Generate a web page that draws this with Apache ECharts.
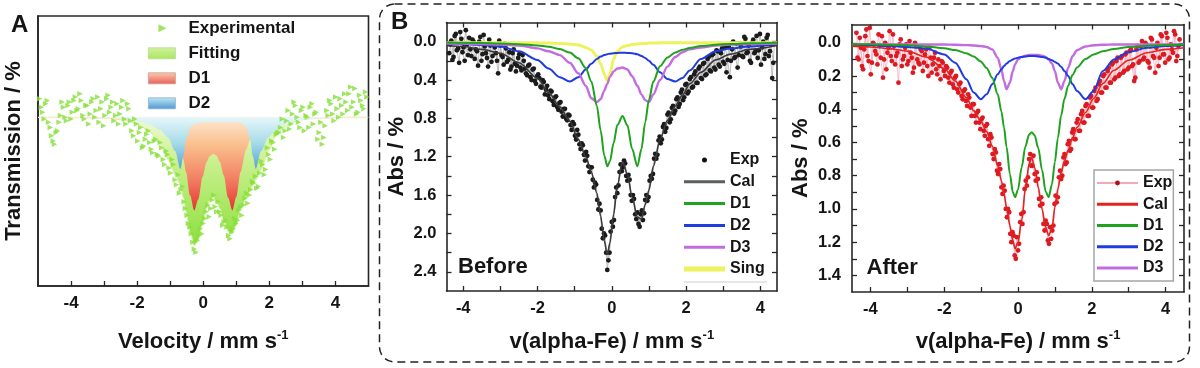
<!DOCTYPE html>
<html><head><meta charset="utf-8">
<script src="https://cdn.jsdelivr.net/npm/echarts@6/dist/echarts.min.js"></script>
<style>html,body{margin:0;padding:0;background:#fff}#c{width:1200px;height:368px}</style>
</head><body><div id="c"></div>
<script>
// ================= Panel A (Transmission) =================
const vA = [-5,-4,-3,-2.5,-2,-1.6,-1.3,-1.07,-0.85,-0.69,-0.6,-0.52,-0.4,-0.27,-0.15,-0.02,0.1,0.2,0.3,0.4,0.5,0.62,0.75,0.88,1.0,1.13,1.3,1.42,1.5,1.59,1.75,1.97,2.2,2.5,2.9,3.5,4.2,5];
const fitA = [100.0,100.0,99.98,99.93,99.82,99.55,99.2,98.75,98.3,98.0,97.6,97.2,96.6,96.2,96.35,96.85,97.3,97.55,97.62,97.5,97.3,96.95,96.62,96.55,96.8,97.25,97.6,97.85,98.0,98.15,98.45,99.0,99.45,99.75,99.92,99.98,100.0,100.0];
const d1A = [99.98,99.97,99.955,99.94,99.90,99.84,99.76,99.63,99.39,99.05,98.75,98.38,97.69,97.24,97.57,98.24,98.67,98.85,98.92,98.87,98.69,98.28,97.62,97.24,97.64,98.38,99.05,99.33,99.45,99.55,99.68,99.78,99.84,99.89,99.92,99.95,99.97,99.98];
const d2A = [100,100,99.99,99.97,99.9,99.78,99.62,99.4,99.0,98.47,98.85,99.35,99.7,99.8,99.84,99.85,99.86,99.86,99.86,99.86,99.86,99.86,99.86,99.86,99.85,99.84,99.72,99.35,98.85,98.47,99.0,99.4,99.62,99.8,99.92,99.97,100,100];
const expVA = [-4.95,-4.86,-4.77,-4.68,-4.59,-4.5,-4.41,-4.32,-4.23,-4.14,-4.05,-3.96,-3.87,-3.78,-3.69,-3.6,-3.51,-3.42,-3.33,-3.24,-3.15,-3.06,-2.97,-2.88,-2.79,-2.7,-2.61,-2.52,-2.43,-2.34,-2.25,-2.16,-2.07,-1.98,-1.89,-1.8,-1.71,-1.62,-1.53,-1.44,-1.35,-1.26,-1.17,-1.08,-0.99,-0.9,-0.81,-0.72,-0.63,-0.54,-0.45,-0.36,-0.27,-0.18,-0.09,0,0.09,0.18,0.27,0.36,0.45,0.54,0.63,0.72,0.81,0.9,0.99,1.08,1.17,1.26,1.35,1.44,1.53,1.62,1.71,1.8,1.89,1.98,2.07,2.16,2.25,2.34,2.43,2.52,2.61,2.7,2.79,2.88,2.97,3.06,3.15,3.24,3.33,3.42,3.51,3.6,3.69,3.78,3.87,3.96,4.05,4.14,4.23,4.32,4.41,4.5,4.59,4.68,4.77,4.86,4.95];
const expTA = [100.55,100.15,100.4,99.85,99.45,99.2,99.6,100.05,100.3,99.9,
100.45,100.15,100.6,100.25,100.5,99.95,100.35,100.1,100.55,100.2,
99.85,100.45,100.05,100.65,100.3,99.9,100.4,100.1,100.5,99.8,
100.25,99.6,99.95,99.3,99.7,99.15,99.5,99.25,98.95,99.35,
98.85,99.1,98.6,98.9,98.35,98.6,98.0,97.75,97.95,97.3,
96.85,96.55,96.1,96.35,96.7,96.85,97.2,97.05,97.55,97.35,
97.5,97.1,96.9,96.75,96.4,96.7,96.85,97.25,97.1,97.6,
97.45,97.85,98.05,97.9,98.35,98.6,98.45,98.9,99.3,99.05,
99.55,99.7,99.4,99.9,99.65,100.1,100.35,99.85,100.2,99.6,
100.0,100.3,99.8,100.15,99.55,99.2,99.75,100.05,100.4,99.9,
100.25,100.55,100.1,100.45,100.7,100.3,100.85,100.15,100.5,100.25,100.6];
const expVA2 = [-4.9,-4.81,-4.72,-4.63,-4.54,-4.45,-4.36,-4.27,-4.18,-4.09,-4.0,-3.91,-3.82,-3.73,-3.64,-3.55,-3.46,-3.37,-3.28,-3.19,-3.1,-3.01,-2.92,-2.83,-2.74,-2.65,-2.56,-2.47,-2.38,-2.29,-2.2,-2.11,-2.02,-1.93,-1.84,-1.75,-1.66,-1.57,-1.48,-1.39,-1.3,-1.21,-1.12,-1.03,-0.94,-0.85,-0.76,-0.67,-0.58,-0.49,-0.4,-0.31,-0.22,-0.13,-0.04,0.05,0.14,0.23,0.32,0.41,0.5,0.59,0.68,0.77,0.86,0.95,1.04,1.13,1.22,1.31,1.4,1.49,1.58,1.67,1.76,1.85,1.94,2.03,2.12,2.21,2.3,2.39,2.48,2.57,2.66,2.75,2.84,2.93,3.02,3.11,3.2,3.29,3.38,3.47,3.56,3.65,3.74,3.83,3.92,4.01,4.1,4.19,4.28,4.37,4.46,4.55,4.64,4.73,4.82,4.91];
const expTA2 = [100.3,99.95,100.5,99.7,99.3,99.55,99.85,100.45,100.0,100.35,
99.95,100.5,100.2,100.7,100.05,100.35,99.8,100.45,100.0,100.6,
100.25,99.75,100.55,100.15,100.45,100.05,99.8,100.3,99.95,100.4,
99.9,99.45,99.8,99.55,99.1,99.35,99.6,99.05,99.3,98.9,
99.25,98.75,99.0,98.5,98.75,98.15,98.3,97.85,97.5,97.1,
96.75,96.3,96.0,96.5,96.55,97.0,97.4,97.3,97.7,97.2,
97.2,96.8,96.95,96.5,96.6,97.0,96.95,97.35,97.4,97.75,
97.7,98.1,98.25,97.95,98.7,98.3,99.1,98.75,99.25,99.5,
99.55,99.95,99.6,100.2,99.8,100.45,100.0,99.7,100.3,100.05,
99.7,100.4,100.1,99.35,99.85,99.4,100.2,100.5,100.1,100.6,
100.0,100.35,100.7,100.2,100.9,100.45,100.1,100.65,100.35,100.75];

// ================= Panel B (Before) =================
const vB = [-4.45,-4,-3.5,-3,-2.5,-2,-1.7,-1.4,-1.13,-0.9,-0.7,-0.55,-0.4,-0.3,-0.2,-0.12,-0.05,0.05,0.15,0.29,0.42,0.55,0.69,0.8,0.9,1.0,1.12,1.3,1.5,1.71,1.9,2.1,2.4,2.8,3.2,3.7,4.45];
const calB = [0.04,0.05,0.08,0.12,0.22,0.38,0.53,0.68,0.83,1.02,1.2,1.36,1.58,1.82,2.08,2.22,2.1,1.8,1.5,1.25,1.38,1.62,1.83,1.85,1.7,1.55,1.3,1.02,0.82,0.67,0.56,0.44,0.32,0.19,0.13,0.08,0.04];
const d1B = [0.009,0.011,0.014,0.018,0.026,0.039,0.053,0.077,0.114,0.174,0.275,0.416,0.67,0.926,1.19,1.30,1.25,1.06,0.87,0.775,0.87,1.12,1.30,1.12,0.843,0.607,0.416,0.255,0.164,0.113,0.084,0.065,0.046,0.032,0.024,0.017,0.011];
const d2B = [0.02,0.025,0.035,0.05,0.10,0.19,0.28,0.37,0.415,0.37,0.29,0.23,0.18,0.155,0.14,0.13,0.125,0.12,0.117,0.115,0.117,0.12,0.13,0.15,0.17,0.20,0.24,0.32,0.39,0.415,0.38,0.30,0.18,0.10,0.07,0.05,0.025];
const d3B = [0.02,0.02,0.025,0.03,0.04,0.07,0.10,0.14,0.22,0.33,0.46,0.59,0.63,0.60,0.51,0.44,0.37,0.31,0.28,0.27,0.29,0.36,0.46,0.55,0.61,0.63,0.55,0.40,0.26,0.16,0.11,0.08,0.06,0.04,0.03,0.025,0.02];
const singB = [0.01,0.01,0.01,0.01,0.01,0.012,0.015,0.02,0.025,0.035,0.06,0.09,0.15,0.23,0.34,0.41,0.34,0.18,0.10,0.055,0.04,0.03,0.025,0.02,0.02,0.015,0.015,0.012,0.01,0.01,0.01,0.01,0.01,0.01,0.01,0.01,0.01];

// velocity channels of the measured spectra (shared by B and C), two interleaved sweeps
const expV = [-4.38,-4.32,-4.26,-4.2,-4.14,-4.08,-4.02,-3.96,-3.9,-3.84,-3.78,-3.72,-3.66,-3.6,-3.54,-3.48,-3.42,-3.36,-3.3,-3.24,-3.18,-3.12,-3.06,-3,-2.94,-2.88,-2.82,-2.76,-2.7,-2.64,-2.58,-2.52,-2.46,-2.4,-2.34,-2.28,-2.22,-2.16,-2.1,-2.04,-1.98,-1.92,-1.86,-1.8,-1.74,-1.68,-1.62,-1.56,-1.5,-1.44,-1.38,-1.32,-1.26,-1.2,-1.14,-1.08,-1.02,-0.96,-0.9,-0.84,-0.78,-0.72,-0.66,-0.6,-0.54,-0.48,-0.42,-0.36,-0.3,-0.24,-0.18,-0.12,-0.06,0,0.06,0.12,0.18,0.24,0.3,0.36,0.42,0.48,0.54,0.6,0.66,0.72,0.78,0.84,0.9,0.96,1.02,1.08,1.14,1.2,1.26,1.32,1.38,1.44,1.5,1.56,1.62,1.68,1.74,1.8,1.86,1.92,1.98,2.04,2.1,2.16,2.22,2.28,2.34,2.4,2.46,2.52,2.58,2.64,2.7,2.76,2.82,2.88,2.94,3,3.06,3.12,3.18,3.24,3.3,3.36,3.42,3.48,3.54,3.6,3.66,3.72,3.78,3.84,3.9,3.96,4.02,4.08,4.14,4.2,4.26,4.32,4.38];
const expV2 = [-4.35,-4.29,-4.23,-4.17,-4.11,-4.05,-3.99,-3.93,-3.87,-3.81,-3.75,-3.69,-3.63,-3.57,-3.51,-3.45,-3.39,-3.33,-3.27,-3.21,-3.15,-3.09,-3.03,-2.97,-2.91,-2.85,-2.79,-2.73,-2.67,-2.61,-2.55,-2.49,-2.43,-2.37,-2.31,-2.25,-2.19,-2.13,-2.07,-2.01,-1.95,-1.89,-1.83,-1.77,-1.71,-1.65,-1.59,-1.53,-1.47,-1.41,-1.35,-1.29,-1.23,-1.17,-1.11,-1.05,-0.99,-0.93,-0.87,-0.81,-0.75,-0.69,-0.63,-0.57,-0.51,-0.45,-0.39,-0.33,-0.27,-0.21,-0.15,-0.09,-0.03,0.03,0.09,0.15,0.21,0.27,0.33,0.39,0.45,0.51,0.57,0.63,0.69,0.75,0.81,0.87,0.93,0.99,1.05,1.11,1.17,1.23,1.29,1.35,1.41,1.47,1.53,1.59,1.65,1.71,1.77,1.83,1.89,1.95,2.01,2.07,2.13,2.19,2.25,2.31,2.37,2.43,2.49,2.55,2.61,2.67,2.73,2.79,2.85,2.91,2.97,3.03,3.09,3.15,3.21,3.27,3.33,3.39,3.45,3.51,3.57,3.63,3.69,3.75,3.81,3.87,3.93,3.99,4.05,4.11,4.17,4.23,4.29,4.35];
const expB = [0.12,-0.01,0.16,-0.08,0.07,-0.1,0.11,0.2,0.03,-0.04,
0.15,0.0,0.08,0.25,-0.05,0.13,0.05,0.17,-0.02,0.21,
0.03,0.12,0.33,0.04,0.16,0.02,0.21,0.11,0.26,0.08,
0.31,0.17,0.27,0.14,0.28,0.35,0.24,0.4,0.28,0.44,
0.34,0.47,0.4,0.55,0.46,0.6,0.52,0.66,0.57,0.71,
0.63,0.78,0.7,0.82,0.77,0.92,0.86,1.02,0.97,1.12,
1.08,1.24,1.19,1.36,1.31,1.52,1.49,1.75,1.76,2.05,
2.02,2.38,2.2,1.88,1.86,1.52,1.5,1.28,1.31,1.27,
1.45,1.44,1.66,1.64,1.85,1.9,1.8,1.86,1.65,1.66,
1.45,1.43,1.22,1.22,1.03,1.06,0.89,0.94,0.76,0.84,
0.69,0.75,0.6,0.68,0.53,0.61,0.45,0.54,0.39,0.48,
0.34,0.43,0.28,0.38,0.23,0.35,0.18,0.3,0.14,0.27,
0.09,0.24,0.12,0.21,0.06,0.19,0.37,0.08,0.17,0.02,
0.14,0.05,0.16,-0.03,0.11,0.2,0.01,0.12,-0.06,0.09,
0.24,0.0,0.13,-0.07,0.1,0.38,0.02];
const expB2 = [0.03,0.19,-0.06,0.09,0.22,-0.03,0.06,-0.12,0.14,0.08,
-0.02,0.18,0.1,0.0,0.2,-0.07,0.12,0.26,0.04,0.15,
0.06,0.2,-0.01,0.14,0.24,0.07,0.19,0.29,0.12,0.23,
0.25,0.13,0.3,0.2,0.33,0.25,0.37,0.29,0.41,0.36,
0.38,0.48,0.42,0.5,0.56,0.51,0.62,0.58,0.68,0.64,
0.73,0.7,0.8,0.76,0.87,0.84,0.98,0.92,1.07,1.06,
1.18,1.15,1.3,1.31,1.44,1.47,1.65,1.69,1.95,2.0,
2.2,2.28,1.98,1.93,1.62,1.58,1.36,1.35,1.24,1.4,
1.39,1.6,1.6,1.8,1.78,1.93,1.76,1.79,1.6,1.62,
1.4,1.38,1.17,1.18,0.99,1.02,0.86,0.9,0.74,0.81,
0.67,0.72,0.58,0.65,0.5,0.58,0.44,0.52,0.37,0.47,
0.31,0.43,0.26,0.39,0.22,0.34,0.16,0.31,0.13,0.29,
0.1,0.26,0.07,0.23,0.32,0.05,0.2,0.0,0.16,0.27,
0.02,0.15,-0.05,0.12,0.04,0.22,-0.02,0.1,0.17,-0.08,
0.06,0.18,-0.04,0.15,0.03,0.22];

// ================= Panel C (After) =================
const vC = [-4.5,-4,-3.5,-3,-2.5,-2,-1.7,-1.4,-1.2,-1.01,-0.85,-0.7,-0.55,-0.45,-0.38,-0.31,-0.22,-0.14,-0.08,0.0,0.1,0.2,0.3,0.37,0.45,0.55,0.65,0.75,0.83,0.92,1.0,1.08,1.17,1.26,1.36,1.48,1.6,1.83,2.05,2.3,2.6,3.0,3.5,4.0,4.5];
const calC = [0.02,0.025,0.035,0.05,0.085,0.155,0.23,0.33,0.41,0.47,0.535,0.62,0.74,0.83,0.91,0.99,1.10,1.19,1.24,1.20,1.07,0.88,0.73,0.69,0.75,0.87,1.0,1.11,1.16,1.12,0.99,0.88,0.78,0.71,0.645,0.57,0.51,0.42,0.335,0.245,0.165,0.105,0.06,0.04,0.03];
const d1C = [0.007,0.009,0.012,0.015,0.022,0.033,0.044,0.063,0.083,0.112,0.152,0.211,0.31,0.413,0.509,0.626,0.79,0.90,0.93,0.884,0.749,0.624,0.552,0.538,0.557,0.634,0.764,0.895,0.93,0.853,0.717,0.574,0.438,0.337,0.258,0.193,0.149,0.098,0.070,0.051,0.037,0.026,0.018,0.013,0.010];
const d2C = [0.012,0.015,0.02,0.025,0.035,0.07,0.12,0.22,0.30,0.34,0.31,0.25,0.19,0.16,0.14,0.125,0.11,0.10,0.095,0.09,0.085,0.082,0.08,0.08,0.08,0.082,0.085,0.09,0.097,0.105,0.115,0.125,0.145,0.17,0.20,0.25,0.29,0.34,0.29,0.17,0.10,0.055,0.03,0.02,0.015];
const d3C = [0.01,0.01,0.01,0.01,0.01,0.01,0.012,0.014,0.016,0.02,0.025,0.04,0.09,0.16,0.23,0.28,0.24,0.17,0.13,0.10,0.085,0.078,0.074,0.073,0.073,0.074,0.078,0.085,0.10,0.125,0.17,0.24,0.28,0.23,0.15,0.08,0.045,0.022,0.015,0.012,0.01,0.01,0.01,0.01,0.01];
const expC = [-0.06,0.1,0.03,0.16,-0.04,0.08,-0.09,0.12,0.01,0.07,
-0.05,0.09,0.21,0.0,0.06,-0.07,0.11,0.02,0.08,0.24,
-0.02,0.1,0.03,0.13,-0.01,0.09,0.15,0.02,0.12,0.04,
0.17,0.07,0.14,0.03,0.18,0.09,0.16,0.1,0.22,0.12,
0.2,0.15,0.24,0.17,0.27,0.2,0.3,0.24,0.34,0.28,
0.38,0.33,0.44,0.37,0.48,0.41,0.52,0.45,0.56,0.49,
0.62,0.57,0.7,0.66,0.79,0.76,0.91,0.89,1.05,1.02,
1.2,1.16,1.3,1.25,1.08,1.09,0.88,0.86,0.7,0.74,
0.68,0.83,0.82,0.98,0.97,1.13,1.09,1.21,1.18,1.1,
0.92,0.93,0.77,0.8,0.67,0.72,0.59,0.64,0.52,0.58,
0.46,0.53,0.41,0.48,0.37,0.44,0.32,0.39,0.27,0.34,
0.23,0.3,0.19,0.27,0.15,0.24,0.12,0.21,0.09,0.19,
0.08,0.17,0.06,0.15,0.04,0.13,0.21,0.02,0.11,-0.01,
0.09,0.01,0.12,-0.03,0.08,0.18,0.0,0.09,-0.04,0.07,
-0.06,0.1,0.01,0.06,-0.05,0.08,-0.02];
const expC2 = [0.09,-0.03,0.14,0.04,-0.08,0.11,0.19,0.0,0.05,0.13,
0.02,-0.04,0.1,0.16,0.03,0.08,-0.05,0.13,0.06,0.01,
0.14,0.08,0.01,0.11,0.06,0.18,0.0,0.1,0.13,0.05,
0.12,0.04,0.2,0.09,0.13,0.06,0.19,0.14,0.11,0.17,
0.14,0.21,0.18,0.25,0.21,0.28,0.25,0.32,0.29,0.35,
0.31,0.39,0.37,0.44,0.42,0.48,0.46,0.53,0.5,0.58,
0.55,0.67,0.64,0.77,0.73,0.87,0.86,1.0,1.0,1.15,
1.14,1.28,1.17,1.21,1.03,1.02,0.83,0.81,0.67,0.74,
0.79,0.78,0.94,0.93,1.09,1.07,1.19,1.11,1.13,0.97,
0.96,0.81,0.82,0.69,0.73,0.61,0.65,0.54,0.58,0.48,
0.53,0.43,0.48,0.38,0.44,0.33,0.39,0.29,0.35,0.25,
0.3,0.2,0.27,0.17,0.24,0.13,0.22,0.11,0.2,0.09,
0.18,0.07,0.16,0.05,0.14,0.23,0.04,0.12,0.02,0.1,
0.0,0.11,0.15,-0.02,0.09,0.03,0.14,-0.05,0.07,0.12,
-0.03,0.09,0.04,-0.07,0.11,0.02];

// ================= Tick values =================
const ticksX = [-4,-3,-2,-1,0,1,2,3,4];
const labelsX = [-4,-2,0,2,4];
const ticksYB = [0,0.2,0.4,0.6,0.8,1.0,1.2,1.4,1.6,1.8,2.0,2.2,2.4];
const labelsYB = [0,0.4,0.8,1.2,1.6,2.0,2.4];
const ticksYC = [0,0.1,0.2,0.3,0.4,0.5,0.6,0.7,0.8,0.9,1.0,1.1,1.2,1.3,1.4];
const labelsYC = [0,0.2,0.4,0.6,0.8,1.0,1.2,1.4];

// ================= Styling =================
const FONT = '"Liberation Sans", Arial, Helvetica, sans-serif';
const INK = '#151515';
const lbl = (s) => ({fontFamily: FONT, fontWeight: 'bold', fontSize: s, color: INK});
const aLine = {show: true, onZero: false, lineStyle: {color: '#262626', width: 1.6}};
const tick = (vals) => ({show: true, inside: true, length: 5, customValues: vals, lineStyle: {color: '#262626', width: 1.3}});
const nameTS = {fontFamily: FONT, fontWeight: 'bold', fontSize: 22, color: INK, lineHeight: 26,
  rich: {sup: {fontFamily: FONT, fontWeight: 'bold', fontSize: 13, lineHeight: 13, verticalAlign: 'top', color: INK}}};
const noSplit = {show: false};
const pairs = (xs, ys) => xs.map((x, i) => [x, ys[i]]);
const grad = (stops) => ({type: 'linear', x: 0, y: 0, x2: 0, y2: 1, colorStops: stops.map((c) => ({offset: c[0], color: c[1]}))});

const gFit = grad([[0,'#f1fad6'],[0.35,'#c9f08e'],[1,'#8ddf3e']]);
const gD1 = grad([[0,'#fde9d4'],[0.3,'#f9bf8c'],[0.65,'#f38265'],[1,'#e63434']]);
const gD2 = grad([[0,'#e6f7f9'],[0.5,'#a6dbe9'],[1,'#58a2d8']]);
const gFitL = grad([[0,'#d2f39e'],[1,'#a9e65c']]);
const gD1L = grad([[0,'#f8cfae'],[1,'#ee5a5a']]);
const gD2L = grad([[0,'#bfe9f1'],[1,'#4d96d6']]);

const RECT = 'path://M0,0L27,0L27,11L0,11ZM35,0L35,0.01';
const TRI = 'path://M0,0L0,0.01M35,11L35,10.99M10,1.5L18,5.5L10,9.5Z';
const DOT = 'path://M0,0L0,0.01M41,14L41,13.99M18,7A2.5,2.5,0,1,1,23,7A2.5,2.5,0,1,1,18,7Z';
const L2 = 'path://M0,0L0,0.01M41,14L41,13.99M0,6L41,6L41,8L0,8Z';
const L3 = 'path://M0,0L0,0.01M41,14L41,13.99M0,5.5L41,5.5L41,8.5L0,8.5Z';
const L5 = 'path://M0,0L0,0.01M41,14L41,13.99M0,4.5L41,4.5L41,9.5L0,9.5Z';

const C_D1 = '#1fa31f', C_D2 = '#1f3ce0', C_D3 = '#c36ce0', C_S = '#eef25e';

const curve = (name, xi, yi, xs, ys, color, width) => ({
  name, type: 'line', xAxisIndex: xi, yAxisIndex: yi, data: pairs(xs, ys),
  smooth: 0.3, smoothMonotone: 'x', symbol: 'none', lineStyle: {color, width}, itemStyle: {color}
});
const expSeries = (xi, yi, xs, ys, lineColor, dotColor) => ({
  name: 'Exp', type: 'line', xAxisIndex: xi, yAxisIndex: yi, data: pairs(xs, ys), symbol: 'circle', symbolSize: 4.8,
  showSymbol: true, lineStyle: {color: lineColor, width: 0.7}, itemStyle: {color: dotColor}, z: 2
});

const option = {
  animation: false,
  backgroundColor: '#fff',
  grid: [
    {left: 36, top: 16, width: 332.5, height: 270, show: true, borderColor: '#262626', borderWidth: 1.6},
    {left: 446.5, top: 22.5, width: 330.5, height: 268.5},
    {left: 852, top: 24.5, width: 332, height: 267.5}
  ],
  xAxis: [
    {gridIndex: 0, type: 'value', min: -5, max: 5, position: 'bottom', axisLine: aLine, axisTick: tick(ticksX),
     axisLabel: {...lbl(17), margin: 9, customValues: labelsX}, splitLine: noSplit,
     name: 'Velocity / mm s{sup|-1}', nameLocation: 'middle', nameGap: 43, nameTextStyle: nameTS},
    {gridIndex: 1, type: 'value', min: -4.45, max: 4.45, position: 'bottom', axisLine: aLine, axisTick: tick(ticksX),
     axisLabel: {...lbl(16.5), margin: 9, customValues: labelsX}, splitLine: noSplit,
     name: 'v(alpha-Fe) / mm s{sup|-1}', nameLocation: 'middle', nameGap: 38, nameTextStyle: nameTS},
    {gridIndex: 1, type: 'value', min: -4.45, max: 4.45, position: 'top', axisLine: aLine, axisTick: tick(ticksX),
     axisLabel: {show: false}, splitLine: noSplit},
    {gridIndex: 2, type: 'value', min: -4.5, max: 4.5, position: 'bottom', axisLine: aLine, axisTick: tick(ticksX),
     axisLabel: {...lbl(16.5), margin: 9, customValues: labelsX}, splitLine: noSplit,
     name: 'v(alpha-Fe) / mm s{sup|-1}', nameLocation: 'middle', nameGap: 37, nameTextStyle: nameTS},
    {gridIndex: 2, type: 'value', min: -4.5, max: 4.5, position: 'top', axisLine: aLine, axisTick: tick(ticksX),
     axisLabel: {show: false}, splitLine: noSplit}
  ],
  yAxis: [
    {gridIndex: 0, type: 'value', min: 95, max: 103, position: 'left', axisLine: aLine, axisTick: {show: false}, axisLabel: {show: false},
     splitLine: noSplit, name: 'Transmission / %', nameLocation: 'middle', nameRotate: 90, nameGap: 11, nameTextStyle: nameTS},
    {gridIndex: 1, type: 'value', inverse: true, min: -0.2, max: 2.6, position: 'left', axisLine: aLine, axisTick: tick(ticksYB),
     axisLabel: {...lbl(16.5), margin: 10, customValues: labelsYB, formatter: v => v.toFixed(1)}, splitLine: noSplit,
     name: 'Abs / %', nameLocation: 'middle', nameRotate: 90, nameGap: 36, nameTextStyle: nameTS},
    {gridIndex: 1, type: 'value', inverse: true, min: -0.2, max: 2.6, position: 'right', axisLine: aLine, axisTick: tick(ticksYB),
     axisLabel: {show: false}, splitLine: noSplit},
    {gridIndex: 2, type: 'value', inverse: true, min: -0.11, max: 1.5, position: 'left', axisLine: aLine, axisTick: tick(ticksYC),
     axisLabel: {...lbl(16.5), margin: 11, customValues: labelsYC, formatter: v => v.toFixed(1)}, splitLine: noSplit,
     name: 'Abs / %', nameLocation: 'middle', nameRotate: 90, nameGap: 35, nameTextStyle: nameTS},
    {gridIndex: 2, type: 'value', inverse: true, min: -0.11, max: 1.5, position: 'right', axisLine: aLine, axisTick: tick(ticksYC),
     axisLabel: {show: false}, splitLine: noSplit}
  ],
  legend: [
    {left: 148, top: 19.8, orient: 'vertical', padding: 0, itemGap: 8, itemWidth: 35, itemHeight: 11, selectedMode: false,
     textStyle: {...lbl(17), lineHeight: 17},
     data: [
       {name: 'Experimental', icon: TRI, itemStyle: {color: '#86e03a', borderWidth: 0}},
       {name: 'Fitting', icon: RECT, itemStyle: {color: gFitL, borderColor: '#b9d59a', borderWidth: 0.8}},
       {name: 'D1', icon: RECT, itemStyle: {color: gD1L, borderColor: '#c9a08e', borderWidth: 0.8}},
       {name: 'D2', icon: RECT, itemStyle: {color: gD2L, borderColor: '#8fb0c6', borderWidth: 0.8}}
     ]},
    {left: 684, top: 152, orient: 'vertical', padding: 0, itemGap: 5.8, itemWidth: 41, itemHeight: 14, selectedMode: false,
     textStyle: {...lbl(16), lineHeight: 16},
     data: [
       {name: 'Exp', icon: DOT, itemStyle: {color: '#111', borderWidth: 0}},
       {name: 'Cal', icon: L3, itemStyle: {color: '#5a6062', borderWidth: 0}},
       {name: 'D1', icon: L3, itemStyle: {color: C_D1, borderWidth: 0}},
       {name: 'D2', icon: L3, itemStyle: {color: C_D2, borderWidth: 0}},
       {name: 'D3', icon: L3, itemStyle: {color: C_D3, borderWidth: 0}},
       {name: 'Sing', icon: L5, itemStyle: {color: C_S, borderWidth: 0}}
     ]},
    {left: 1094, top: 170, orient: 'vertical', padding: [5, 1, 5, 3], itemGap: 5.25, itemWidth: 41, itemHeight: 14, selectedMode: false,
     borderColor: '#a3a6a8', borderWidth: 1.5, textStyle: {...lbl(16), lineHeight: 16},
     data: [
       {name: 'Exp', icon: L2, itemStyle: {color: '#f4a8ba', borderWidth: 0}},
       {name: 'Cal', icon: L3, itemStyle: {color: '#e3231f', borderWidth: 0}},
       {name: 'D1', icon: L3, itemStyle: {color: C_D1, borderWidth: 0}},
       {name: 'D2', icon: L3, itemStyle: {color: C_D2, borderWidth: 0}},
       {name: 'D3', icon: L3, itemStyle: {color: C_D3, borderWidth: 0}}
     ]}
  ],
  series: [
    // ---- A ----
    {name: 'Fitting', type: 'line', xAxisIndex: 0, yAxisIndex: 0, data: pairs(vA, fitA), smooth: 0.3, smoothMonotone: 'x',
     symbol: 'none', lineStyle: {color: '#d9f2a4', width: 1.2}, areaStyle: {origin: 100, color: gFit, opacity: 1}, z: 2},
    {name: 'D1', type: 'line', xAxisIndex: 0, yAxisIndex: 0, data: pairs(vA, d1A), smooth: 0.3, smoothMonotone: 'x',
     symbol: 'none', lineStyle: {width: 0}, areaStyle: {origin: 100, color: gD1, opacity: 1}, z: 3},
    {name: 'D2', type: 'line', xAxisIndex: 0, yAxisIndex: 0, data: pairs(vA, d2A), smooth: 0.3, smoothMonotone: 'x',
     symbol: 'none', lineStyle: {width: 0}, areaStyle: {origin: 100, color: gD2, opacity: 1}, z: 4},
    {name: 'Experimental', type: 'scatter', xAxisIndex: 0, yAxisIndex: 0, data: pairs(expVA, expTA),
     symbol: 'triangle', symbolRotate: -90, symbolSize: 5.5, itemStyle: {color: '#86e03a'}, z: 5},
    {name: 'Experimental', type: 'scatter', xAxisIndex: 0, yAxisIndex: 0, data: pairs(expVA2, expTA2),
     symbol: 'triangle', symbolRotate: -90, symbolSize: 5.5, itemStyle: {color: '#86e03a'}, z: 5},
    // ---- B ----
    expSeries(1, 1, expV, expB, '#a4a4a4', '#1b1b1b'),
    expSeries(1, 1, expV2, expB2, '#a4a4a4', '#1b1b1b'),
    curve('Sing', 1, 1, vB, singB, C_S, 3),
    curve('D2', 1, 1, vB, d2B, C_D2, 2),
    curve('D3', 1, 1, vB, d3B, C_D3, 2.4),
    curve('D1', 1, 1, vB, d1B, C_D1, 2),
    curve('Cal', 1, 1, vB, calB, '#3a3a3a', 1.6),
    // ---- C ----
    expSeries(3, 3, expV, expC, '#f3a3b5', '#dc1a22'),
    expSeries(3, 3, expV2, expC2, '#f3a3b5', '#dc1a22'),
    curve('D3', 3, 3, vC, d3C, C_D3, 2.4),
    curve('D2', 3, 3, vC, d2C, C_D2, 2),
    curve('D1', 3, 3, vC, d1C, C_D1, 2),
    curve('Cal', 3, 3, vC, calC, '#e3231f', 1.6)
  ],
  graphic: [
    {type: 'text', x: 11, y: 25, style: {text: 'A', fontFamily: FONT, fontWeight: 'bold', fontSize: 24, fill: INK, align: 'left', verticalAlign: 'middle'}},
    {type: 'text', x: 391, y: 22.5, style: {text: 'B', fontFamily: FONT, fontWeight: 'bold', fontSize: 24, fill: INK, align: 'left', verticalAlign: 'middle'}},
    {type: 'text', x: 458, y: 267, style: {text: 'Before', fontFamily: FONT, fontWeight: 'bold', fontSize: 22, fill: INK, align: 'left', verticalAlign: 'middle'}},
    {type: 'text', x: 866.5, y: 268, style: {text: 'After', fontFamily: FONT, fontWeight: 'bold', fontSize: 22, fill: INK, align: 'left', verticalAlign: 'middle'}},
    {type: 'rect', shape: {x: 379.5, y: 4, width: 810, height: 358, r: 15}, style: {fill: 'none', stroke: '#222', lineWidth: 1.5, lineDash: [8, 5]}, z: 100},
    {type: 'line', shape: {x1: 684, y1: 282, x2: 767, y2: 282}, style: {stroke: '#c9cdd6', lineWidth: 1.2}},
    {type: 'circle', shape: {cx: 1117.5, cy: 183, r: 2.4}, style: {fill: '#b0101a'}, z: 100}
  ]
};

const chart = echarts.init(document.getElementById('c'), null, {renderer: 'canvas'});
chart.setOption(option);
</script>
</body></html>
